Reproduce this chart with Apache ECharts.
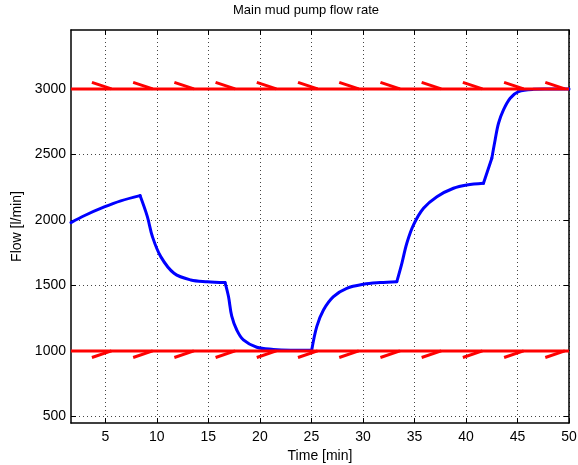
<!DOCTYPE html>
<html>
<head>
<meta charset="utf-8">
<title>Main mud pump flow rate</title>
<script src="https://cdn.jsdelivr.net/npm/echarts@6/dist/echarts.min.js"></script>
<style>
  html, body { margin: 0; padding: 0; background: #fff; }
  #chart { width: 578px; height: 465px; }
</style>
</head>
<body>
<div id="chart"></div>
<script>
// Time axis [min] and pump flow [l/min]
const timeMin = [1.67, 3.0, 4.9, 6.5, 8.37,
  9.08, 9.57, 10.38, 11.67, 13.29, 14.9, 16.62,
  16.95, 17.27, 17.76, 18.40, 19.70, 21.31, 23.0, 25.03,
  25.52, 26.17, 27.14, 28.43, 30.05, 31.67, 33.29,
  33.78, 34.26, 34.91, 35.88, 37.18, 38.79, 40.08, 41.7,
  42.51,
  42.83, 43.16, 43.64, 44.29, 45.1, 46.55, 48.0, 50.0];
const flowLpm = [1980, 2034, 2099, 2146, 2186,
  2025, 1873, 1720, 1593, 1542, 1529, 1522,
  1417, 1265, 1160, 1084, 1028, 1012, 1006, 1005,
  1186, 1313, 1415, 1478, 1509, 1522, 1529,
  1669, 1822, 1962, 2089, 2178, 2242, 2267, 2280,
  2471,
  2611, 2738, 2840, 2929, 2980, 2997, 2999, 3000];
// Indices of the set-point changes where the flow curve has a corner
const cornerIdx = [0, 4, 11, 19, 26, 34, 35, 43];

// Flow limits [l/min]
const upperLimit = 3000;
const lowerLimit = 1000;

// Hatch marks along the limit lines: start time [min], run [min], rise [l/min]
const hatchStart = [3.7, 7.7, 11.7, 15.7, 19.7, 23.7, 27.7, 31.7, 35.7, 39.7, 43.7, 47.7];
const hatchRun = 1.9;
const hatchRise = 50;

// Axis ranges and ticks
const xRange = [1.67, 50];
const yRange = [450, 3450];
const xTicks = [5, 10, 15, 20, 25, 30, 35, 40, 45, 50];
const yTicks = [500, 1000, 1500, 2000, 2500, 3000];

const FONT = "'Liberation Sans', Arial, Helvetica, sans-serif";
const FS = 14;

const chart = echarts.init(document.getElementById('chart'));

const gridDots = { show: true, lineStyle: { color: '#444', width: 1, type: [1, 3] } };
const frameLine = { show: true, onZero: false, lineStyle: { color: '#000', width: 1.5 } };
const innerTick = { show: true, inside: true, length: 5, lineStyle: { color: '#000', width: 1 } };

// Flow curve: one smoothed piece between consecutive corners
const flowPieces = [];
for (let k = 0; k + 1 < cornerIdx.length; k++) {
  const pts = [];
  for (let i = cornerIdx[k]; i <= cornerIdx[k + 1]; i++) pts.push([timeMin[i], flowLpm[i]]);
  flowPieces.push({
    type: 'line',
    data: pts,
    symbol: 'none',
    smooth: pts.length > 2 ? 0.35 : false,
    z: 3,
    lineStyle: { color: '#0000ff', width: 3, join: 'round', cap: 'round' }
  });
}

function hatchSeries(level, side) {
  return hatchStart.map(function (x0) {
    return {
      type: 'line',
      data: [[x0, level + side * hatchRise], [x0 + hatchRun, level]],
      symbol: 'none',
      silent: true,
      z: 4,
      lineStyle: { color: '#ff0000', width: 3, cap: 'butt' }
    };
  });
}

const series = flowPieces.concat([
  {
    type: 'line',
    data: [[xRange[0], upperLimit], [xRange[1], upperLimit]],
    symbol: 'none', z: 4,
    lineStyle: { color: '#ff0000', width: 3 }
  },
  {
    type: 'line',
    data: [[xRange[0], lowerLimit], [xRange[1], lowerLimit]],
    symbol: 'none', z: 4,
    lineStyle: { color: '#ff0000', width: 3 }
  }
], hatchSeries(upperLimit, 1), hatchSeries(lowerLimit, -1));

const plain = function (v) { return String(v); };

chart.setOption({
  animation: false,
  backgroundColor: '#fff',
  textStyle: { fontFamily: FONT },
  grid: { left: 71, right: 9, top: 30, bottom: 42, containLabel: false, outerBoundsMode: 'none' },
  graphic: [{
    type: 'text',
    x: 306, y: 4,
    style: {
      text: 'Main mud pump flow rate',
      fill: '#000',
      font: '13px ' + FONT,
      textAlign: 'center',
      textVerticalAlign: 'top'
    }
  }],
  xAxis: [
    {
      type: 'value', position: 'bottom',
      min: xRange[0], max: xRange[1],
      name: 'Time [min]', nameLocation: 'middle', nameGap: 20,
      nameTextStyle: { color: '#000', fontSize: FS, fontFamily: FONT },
      axisLine: frameLine,
      axisTick: Object.assign({ customValues: xTicks }, innerTick),
      axisLabel: { customValues: xTicks, formatter: plain, color: '#000', fontSize: FS, fontFamily: FONT, margin: 7 },
      splitLine: gridDots
    },
    {
      type: 'value', position: 'top',
      min: xRange[0], max: xRange[1],
      axisLine: frameLine,
      axisTick: Object.assign({ customValues: xTicks }, innerTick),
      axisLabel: { show: false },
      splitLine: { show: false }
    }
  ],
  yAxis: [
    {
      type: 'value', position: 'left',
      min: yRange[0], max: yRange[1],
      name: 'Flow [l/min]', nameLocation: 'middle', nameGap: 47,
      nameTextStyle: { color: '#000', fontSize: FS, fontFamily: FONT },
      axisLine: frameLine,
      axisTick: Object.assign({ customValues: yTicks }, innerTick),
      axisLabel: { customValues: yTicks, formatter: plain, color: '#000', fontSize: FS, fontFamily: FONT, margin: 5 },
      splitLine: gridDots
    },
    {
      type: 'value', position: 'right',
      min: yRange[0], max: yRange[1],
      axisLine: frameLine,
      axisTick: Object.assign({ customValues: yTicks }, innerTick),
      axisLabel: { show: false },
      splitLine: { show: false }
    }
  ],
  series: series
});
</script>
</body>
</html>
